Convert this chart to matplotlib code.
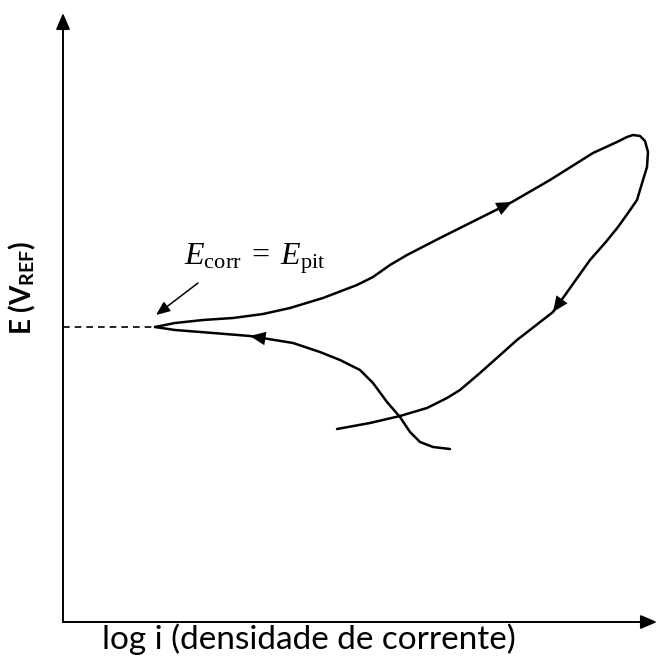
import matplotlib.pyplot as plt

plt.rcParams['mathtext.fontset'] = 'custom'
plt.rcParams['mathtext.rm'] = 'Liberation Serif'
plt.rcParams['mathtext.it'] = 'Liberation Serif:italic'
plt.rcParams['mathtext.bf'] = 'Lato:bold'

# curva de ida (E_corr -> E_max) e volta pela parte de baixo do laço
ida_x = [0.92, 1.12, 1.40, 1.70, 2.00, 2.27, 2.60, 2.94, 3.10, 3.27, 3.44, 3.77, 4.07,
         4.49, 4.87, 5.30, 5.54, 5.64, 5.70, 5.77, 5.82, 5.85, 5.84, 5.80, 5.74, 5.65,
         5.55, 5.42, 5.27, 4.90, 4.54, 4.17, 3.97, 3.84, 3.64, 3.37, 3.07, 2.74]
ida_y = [2.95, 2.99, 3.02, 3.04, 3.08, 3.14, 3.24, 3.37, 3.45, 3.57, 3.67, 3.84, 3.99,
         4.20, 4.42, 4.69, 4.80, 4.85, 4.87, 4.86, 4.81, 4.70, 4.55, 4.42, 4.22, 4.09,
         3.95, 3.79, 3.62, 3.10, 2.82, 2.49, 2.32, 2.24, 2.14, 2.06, 1.99, 1.93]

# curva de retorno até E_corr
volta_x = [3.87, 3.70, 3.57, 3.47, 3.37, 3.24, 3.10, 2.97, 2.77, 2.57, 2.30, 1.87, 1.50, 1.12, 0.92]
volta_y = [1.73, 1.75, 1.80, 1.90, 2.05, 2.20, 2.39, 2.52, 2.62, 2.70, 2.79, 2.86, 2.89, 2.92, 2.95]

e_corr = 2.95
setas_ida = [13, 29]   # índices das pontas de seta
setas_volta = [11]

fig = plt.figure(figsize=(6.57, 6.59), dpi=100)
ax = fig.add_axes([63/657, 37/659, 594/657, 609/659])
ax.set_xlim(0, 5.94)
ax.set_ylim(0, 6.09)
ax.axis('off')

seta = dict(arrowstyle='-|>,head_length=0.7,head_width=0.3', color='black',
            lw=1.4, mutation_scale=14, shrinkA=0, shrinkB=0)
ax.annotate('', xy=(0, 1), xytext=(0, 0), xycoords='axes fraction',
            arrowprops=seta, annotation_clip=False)
ax.annotate('', xy=(1, 0), xytext=(0, 0), xycoords='axes fraction',
            arrowprops=seta, annotation_clip=False)

ax.plot(ida_x, ida_y, color='black', lw=1.8, solid_capstyle='round', solid_joinstyle='round')
ax.plot(volta_x, volta_y, color='black', lw=1.8, solid_capstyle='round', solid_joinstyle='round')
ax.plot([0, ida_x[0]], [e_corr, e_corr], color='black', lw=1.2, ls=(0, (4, 3)))

cabeca = dict(arrowstyle='-|>,head_length=0.8,head_width=0.35', color='black',
              lw=0, mutation_scale=14, shrinkA=0, shrinkB=0)
for i in setas_ida:
    ax.annotate('', xy=(ida_x[i], ida_y[i]), xytext=(ida_x[i-1], ida_y[i-1]), arrowprops=cabeca)
for i in setas_volta:
    ax.annotate('', xy=(volta_x[i], volta_y[i]), xytext=(volta_x[i-1], volta_y[i-1]), arrowprops=cabeca)

ax.annotate('', xy=(0.93, 3.07), xytext=(1.35, 3.39),
            arrowprops=dict(arrowstyle='-|>,head_length=0.6,head_width=0.25',
                            color='black', lw=1.1, mutation_scale=14, shrinkA=0, shrinkB=0))
ax.text(1.21, 3.57, r'$E_{\rm corr}\;=\;E_{\rm pit}$', fontsize=23, ha='left', va='baseline')

fig.text(22/657, 1 - 288/659, r'E (V$_{\mathbf{REF}}$)', rotation=90, ha='center', va='center',
         family='Lato', fontweight='bold', fontsize=20)
fig.text(309/657, 1 - 639/659, 'log i (densidade de corrente)', ha='center', va='center',
         family='Lato', fontsize=24)

fig.savefig('out.png', dpi=100)
